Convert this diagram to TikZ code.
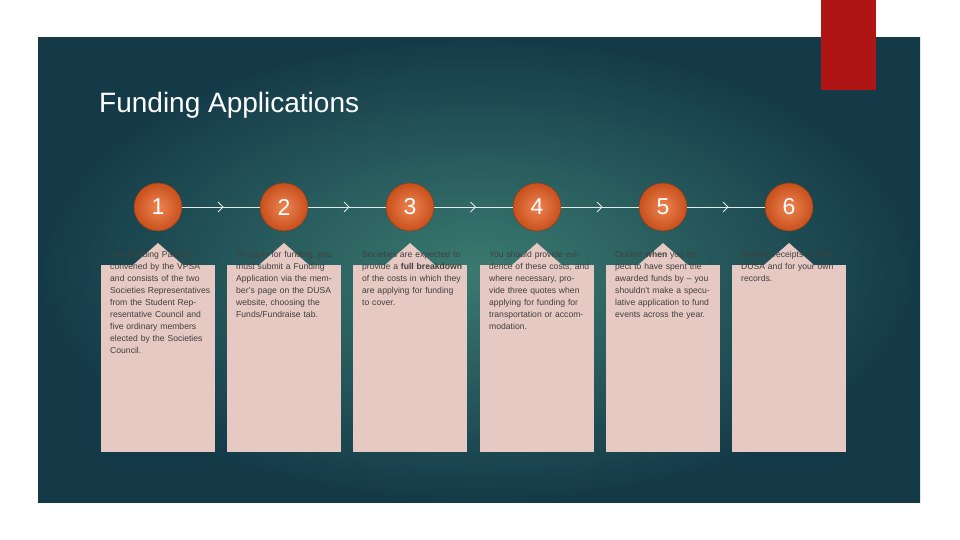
\documentclass[tikz,border=0pt]{standalone}
\usepackage{fontspec}
\setmainfont{Liberation Sans}
\usetikzlibrary{arrows.meta,calc}
\definecolor{teal1}{HTML}{3A7A70}
\definecolor{teal2}{HTML}{143A48}
\definecolor{boxc}{HTML}{E5C9C2}
\definecolor{txt}{HTML}{404040}
\definecolor{redc}{HTML}{B01515}
\definecolor{or1}{HTML}{EE8452}
\definecolor{or2}{HTML}{C8501C}
\tikzset{
  num/.style={circle,minimum size=48pt,inner sep=0pt,shading=radial,inner color=or1,outer color=or2,draw=or2!70!black,line width=0.4pt,text=white,font=\fontsize{23}{23}\selectfont},
  card/.style={fill=boxc,minimum width=114pt,minimum height=187pt,anchor=north west,inner sep=0pt},
  ctext/.style={anchor=north west,text width=100pt,align=left,text=txt,font=\fontsize{8.6}{12}\selectfont,inner sep=0pt},
  conn/.style={white!85!teal1,line width=0.8pt},
  chev/.style={white!85!teal1,line width=0.9pt}
}
\begin{document}
\begin{tikzpicture}[x=1pt,y=-1pt]
\useasboundingbox (0,0) rectangle (960,540);
\fill[white] (0,0) rectangle (960,540);
\shade[inner color=teal1,outer color=teal2,shading=radial] (38,38) rectangle (920,502);
\fill[redc] (821,0) rectangle (876,90);
\node[anchor=west,text=white,font=\fontsize{28}{28}\selectfont,inner sep=0pt] (title) at (99,105) {Funding Applications};
\foreach \i/\x in {1/158,2/284,3/410,4/537,5/663,6/789}{
  \fill[boxc] (\x-25,265) -- (\x,243) -- (\x+25,265) -- cycle;
  \node[card] (b\i) at (\x-57,265) {};
  \node[num] (c\i) at (\x,207) {\i};
}
\foreach \i/\j in {1/2,2/3,3/4,4/5,5/6}{
  \coordinate (m\i) at ($(c\i)!0.5!(c\j)$);
  \draw[conn] (c\i.east) -- (c\j.west);
  \draw[chev] ([xshift=-3pt,yshift=-5pt]m\i) -- ([xshift=2pt]m\i) -- ([xshift=-3pt,yshift=5pt]m\i);
}
\node[ctext] (t1) at ([xshift=9pt,yshift=14pt]b1.north west) {The Funding Panel is convened by the VPSA and consists of the two Societies Representatives from the Student Representative Council and five ordinary members elected by the Societies Council.};
\node[ctext] (t2) at ([xshift=9pt,yshift=14pt]b2.north west) {To apply for funding, you must submit a Funding Application via the member's page on the DUSA website, choosing the Funds/Fundraise tab.};
\node[ctext] (t3) at ([xshift=9pt,yshift=14pt]b3.north west) {Societies are expected to provide a \textbf{full breakdown} of the costs in which they are applying for funding to cover.};
\node[ctext] (t4) at ([xshift=9pt,yshift=14pt]b4.north west) {You should provide evidence of these costs, and where necessary, provide three quotes when applying for funding for transportation or accommodation.};
\node[ctext] (t5) at ([xshift=9pt,yshift=14pt]b5.north west) {Outline \textbf{when} you expect to have spent the awarded funds by -- you shouldn't make a speculative application to fund events across the year.};
\node[ctext] (t6) at ([xshift=9pt,yshift=14pt]b6.north west) {Provide receipts to both DUSA and for your own records.};
\end{tikzpicture}
\end{document}
